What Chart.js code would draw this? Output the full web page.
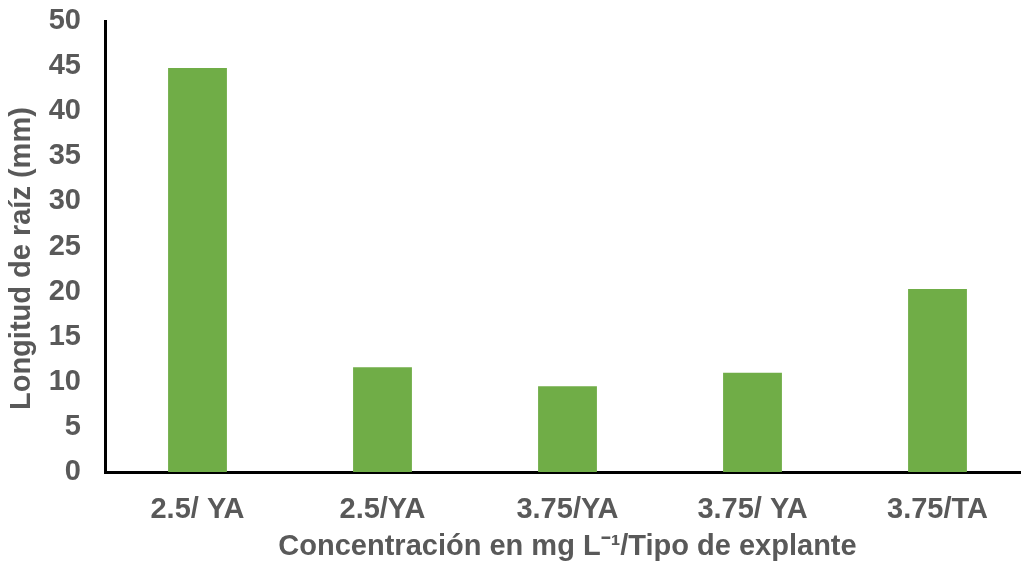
<!DOCTYPE html>
<html>
<head>
<meta charset="utf-8">
<script src="https://cdn.jsdelivr.net/npm/chart.js@4"></script>
<style>
  html, body { margin: 0; padding: 0; background: #ffffff; overflow: hidden; }
  #wrap { position: relative; width: 1035px; height: 567px; }
</style>
</head>
<body>
<div id="wrap"><canvas id="chart"></canvas></div>
<script>
// Root length by concentration / explant type
const categories = ['2.5/ YA', '2.5/YA', '3.75/YA', '3.75/ YA', '3.75/TA'];
const rootLength = [44.8, 11.6, 9.5, 11.0, 20.3];
const yTicks = [0, 5, 10, 15, 20, 25, 30, 35, 40, 45, 50];

const labelFont = { family: '"Liberation Sans", Arial, sans-serif', size: 29, weight: 'bold' };
const textGray = '#595959';

new Chart(document.getElementById('chart'), {
  type: 'bar',
  data: {
    labels: categories,
    datasets: [{
      data: rootLength,
      backgroundColor: '#70AD47',
      borderWidth: 0,
      barPercentage: 1,
      categoryPercentage: 0.318
    }]
  },
  options: {
    responsive: true,
    maintainAspectRatio: false,
    animation: false,
    layout: { padding: { top: 21, right: 5, bottom: 0, left: 0 } },
    plugins: { legend: { display: false }, tooltip: { enabled: false } },
    scales: {
      x: {
        grid: { display: false, drawTicks: false },
        border: { display: true, color: '#000000', width: 3 },
        ticks: { color: textGray, font: labelFont, padding: 21, maxRotation: 0 },
        title: {
          display: true,
          text: 'Concentración en mg L\u207B\u00B9/Tipo de explante',
          color: textGray,
          font: labelFont,
          padding: { top: 0, bottom: 3 }
        },
        afterFit: (s) => { s.height = 95; s.paddingLeft = 0; s.paddingRight = 0; }
      },
      y: {
        min: 0,
        max: 50,
        afterBuildTicks: (s) => { s.ticks = yTicks.map(v => ({ value: v })); },
        grid: { display: false, drawTicks: false },
        border: { display: true, color: '#000000', width: 3 },
        ticks: { color: textGray, font: labelFont, padding: 24 },
        title: {
          display: true,
          text: 'Longitud de raíz (mm)   ',
          color: textGray,
          font: labelFont,
          padding: { top: 5, bottom: 0 }
        },
        afterFit: (s) => { s.width = 105; s.paddingTop = 0; s.paddingBottom = 0; }
      }
    }
  }
});
</script>
</body>
</html>
